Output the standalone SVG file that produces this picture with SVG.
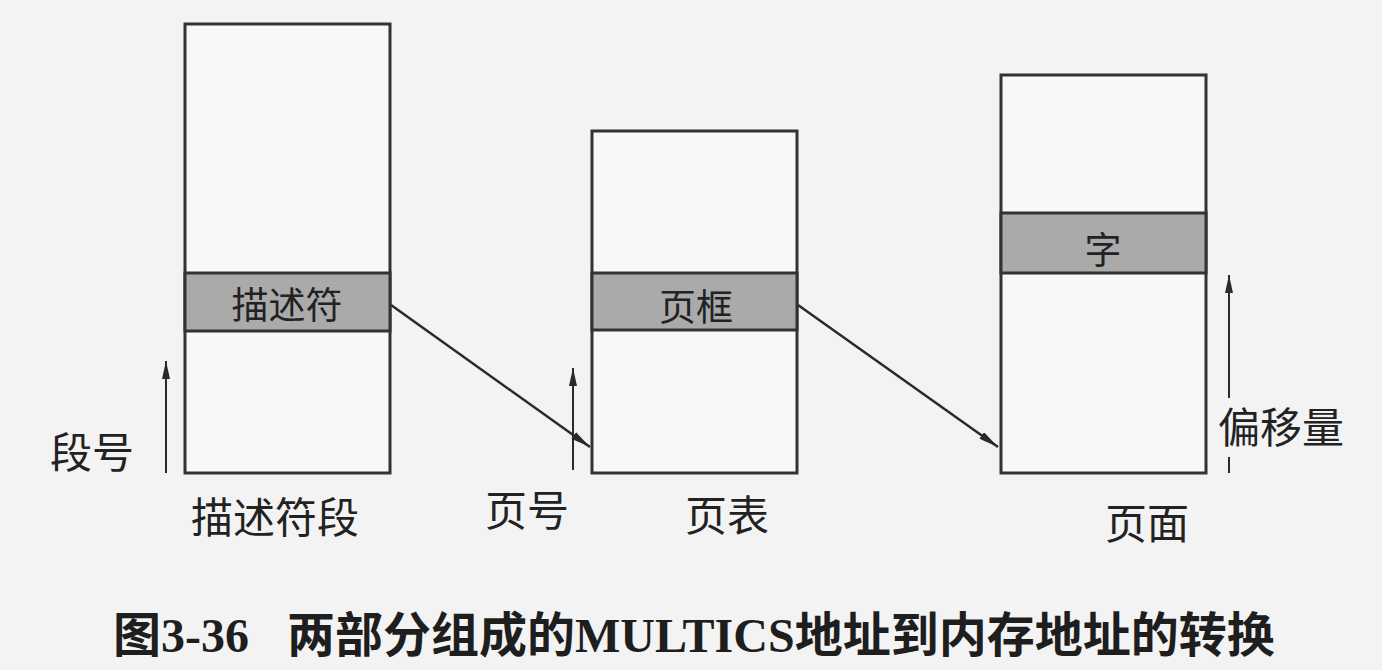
<svg xmlns="http://www.w3.org/2000/svg" width="1382" height="670" viewBox="0 0 1382 670">
  <style>
    .box { fill: #f8f8f8; stroke: #333; stroke-width: 3; }
    .band { fill: #aaaaaa; stroke: #333; stroke-width: 3; }
    .lbl { font-family: "Noto Sans CJK SC", "Liberation Sans", sans-serif; font-size: 42px; fill: #222; text-anchor: middle; }
    .inlbl { font-family: "Noto Sans CJK SC", "Liberation Sans", sans-serif; font-size: 37px; fill: #222; text-anchor: middle; }
    .conn { stroke: #2a2a2a; stroke-width: 2.5; fill: none; }
    .up { stroke: #2a2a2a; stroke-width: 2; fill: none; }
    .cap { font-family: "Liberation Serif", "Noto Sans CJK SC", serif; font-size: 48px; font-weight: bold; fill: #1e1e1e; }
  </style>
  <defs>
    <marker id="ah" viewBox="0 0 20 8" refX="20" refY="4" markerWidth="20" markerHeight="8" markerUnits="userSpaceOnUse" orient="auto">
      <path d="M0,0 L20,4 L0,8 Z" fill="#2a2a2a"/>
    </marker>
    <marker id="ahs" viewBox="0 0 18 8" refX="18" refY="4" markerWidth="18" markerHeight="8" markerUnits="userSpaceOnUse" orient="auto">
      <path d="M0,0 L18,4 L0,8 Z" fill="#2a2a2a"/>
    </marker>
  </defs>
  <rect x="0" y="0" width="1382" height="670" fill="#f3f3f3"/>

  <g id="descriptor-segment">
    <rect class="box" x="185" y="24" width="205" height="449"/>
    <rect class="band" x="185" y="273" width="205" height="58"/>
    <text class="inlbl" x="287" y="319">描述符</text>
    <text class="lbl" x="275" y="533">描述符段</text>
  </g>

  <g id="page-table">
    <rect class="box" x="592" y="131" width="205" height="342"/>
    <rect class="band" x="592" y="273" width="205" height="57"/>
    <text class="inlbl" x="696" y="321">页框</text>
    <text class="lbl" x="727" y="531">页表</text>
  </g>

  <g id="page">
    <rect class="box" x="1001" y="75" width="205" height="398"/>
    <rect class="band" x="1001" y="213" width="205" height="60"/>
    <text class="inlbl" x="1103" y="264">字</text>
    <text class="lbl" x="1147" y="539">页面</text>
  </g>

  <g id="segment-number">
    <text class="lbl" x="92" y="468">段号</text>
  </g>
  <g id="page-number">
    <text class="lbl" x="527" y="526">页号</text>
  </g>
  <g id="offset">
    <text class="lbl" x="1281" y="443">偏移量</text>
  </g>

  <g id="connectors">
    <line class="conn" x1="391" y1="305" x2="590" y2="447" marker-end="url(#ah)"/>
    <line class="conn" x1="798" y1="305" x2="998" y2="447" marker-end="url(#ah)"/>
    <line class="up" x1="166" y1="473" x2="166" y2="361" marker-end="url(#ahs)"/>
    <line class="up" x1="573" y1="470" x2="573" y2="368" marker-end="url(#ahs)"/>
    <line class="up" x1="1229" y1="398" x2="1229" y2="275" marker-end="url(#ahs)"/>
    <line class="up" x1="1229" y1="473" x2="1229" y2="457"/>
  </g>

  <g id="caption">
    <text class="cap" y="652"><tspan x="113">图3-36</tspan><tspan x="287">两部分组成的MULTICS地址到内存地址的转换</tspan></text>
  </g>
</svg>
